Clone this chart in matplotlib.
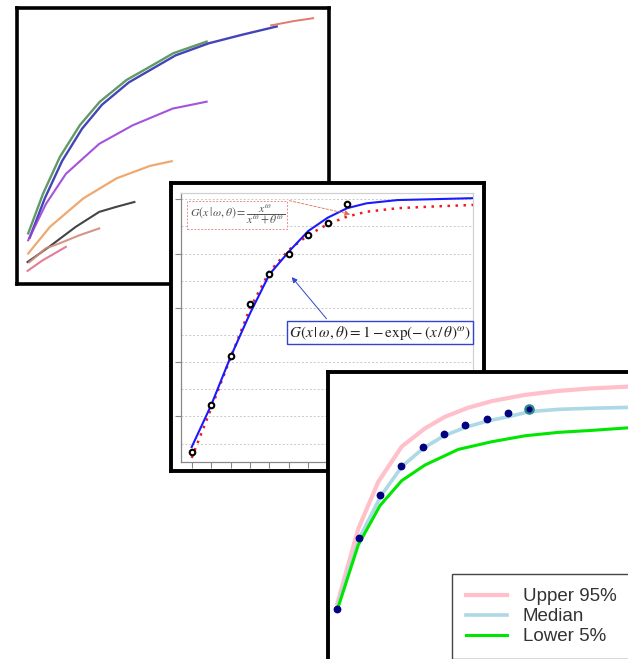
import matplotlib
matplotlib.use("Agg")
import matplotlib.pyplot as plt

W, H = 628, 659

plt.rcParams["mathtext.fontset"] = "stix"
plt.rcParams["font.family"] = ["Liberation Sans", "DejaVu Sans"]

# ---- panel 1: growth curves of several groups
p1_top_x = [3.5, 8.3, 13.7, 20.1, 26.5, 35.1, 42.6, 50.1, 60.8]
p1_top_y = [18.3, 32.8, 46.1, 57.6, 66.1, 74.0, 78.8, 83.7, 87.9]
p1_blue_x = [4.0, 8.9, 14.4, 20.8, 27.2, 35.8, 43.3, 50.8, 61.5, 72.2, 83.3]
p1_blue_y = [16.8, 31.2, 44.6, 56.3, 65.0, 73.1, 78.0, 82.9, 87.3, 90.4, 93.4]
p1_red_x = [81.5, 89.0, 95.0]
p1_red_y = [93.8, 95.4, 96.4]
p1_purple_x = [3.5, 9.2, 15.6, 26.3, 37.0, 49.9, 60.8]
p1_purple_y = [15.8, 29.0, 39.9, 50.8, 57.5, 63.6, 66.1]
p1_orange_x = [3.5, 10.5, 21.2, 31.9, 42.6, 49.6]
p1_orange_y = [11.0, 20.7, 31.0, 38.3, 42.8, 44.5]
p1_black_x = [3.3, 10.2, 18.8, 26.3, 31.7, 37.6]
p1_black_y = [7.9, 13.4, 20.7, 26.1, 27.9, 29.7]
p1_salmon_x = [3.8, 9.2, 13.4, 19.9, 26.3]
p1_salmon_y = [7.8, 12.9, 14.6, 17.6, 20.1]
p1_pink_x = [3.3, 8.1, 15.6]
p1_pink_y = [4.7, 8.5, 13.4]

# ---- panel 2: observed points with two fitted curves
obs_x = [0, 1, 2, 3, 4, 5, 6, 7, 8]
obs_y = [0.068, 0.241, 0.422, 0.614, 0.724, 0.798, 0.868, 0.912, 0.983]
fit_x = [0, 1, 2, 3, 4, 5, 6, 7, 8, 9, 10.6, 12.35, 14.48]
weibull_y = [0.087, 0.241, 0.419, 0.579, 0.723, 0.807, 0.883, 0.932, 0.967,
             0.985, 0.997, 1.0, 1.004]
hill_y = [0.047, 0.229, 0.416, 0.598, 0.733, 0.813, 0.868, 0.908, 0.936,
          0.954, 0.967, 0.973, 0.979]

# ---- panel 3: median with 5% / 95% band
pts_x = [0, 1, 2, 3, 4, 5, 6, 7, 8, 9]
pts_y = [0.175, 0.427, 0.577, 0.681, 0.748, 0.791, 0.823, 0.846, 0.866, 0.879]
upper_x = [0, 0.98, 1.92, 3.02, 4.11, 5.05, 6.14, 7.24, 8.8, 10.36, 11.93, 13.63]
upper_y = [0.195, 0.458, 0.624, 0.748, 0.812, 0.853, 0.885, 0.908, 0.930,
           0.944, 0.953, 0.959]
median_x = [0, 1.03, 2.05, 3.02, 4.03, 5.0, 6.02, 7.04, 8.0, 9.0, 10.36, 11.93, 13.63]
median_y = [0.181, 0.425, 0.575, 0.677, 0.742, 0.786, 0.816, 0.838, 0.853,
            0.871, 0.879, 0.883, 0.886]
lower_x = [0, 0.98, 2.0, 3.02, 4.11, 5.67, 7.24, 8.8, 10.36, 11.93, 13.63]
lower_y = [0.173, 0.401, 0.540, 0.628, 0.683, 0.738, 0.765, 0.786, 0.798,
           0.805, 0.814]
legend_labels = ["Upper 95%", "Median", "Lower 5%"]


def px_rect(x0, y0, x1, y1):
    return [x0 / W, 1 - y1 / H, (x1 - x0) / W, (y1 - y0) / H]


def frame(ax, lw=2.6):
    ax.set_xticks([])
    ax.set_yticks([])
    for s in ax.spines.values():
        s.set_linewidth(lw)
        s.set_color("black")
    ax.set_facecolor("white")


fig = plt.figure(figsize=(W / 100, H / 100), dpi=100)
fig.patch.set_facecolor("white")

# panel 1
ax1 = fig.add_axes(px_rect(17.3, 8.3, 328.7, 283.8))
frame(ax1)
ax1.set_xlim(0, 100)
ax1.set_ylim(0, 100)
ax1.plot(p1_top_x, p1_top_y, color="#4f8f55", lw=1.7, alpha=0.9)
ax1.plot(p1_blue_x, p1_blue_y, color="#3030b0", lw=1.7, alpha=0.9)
ax1.plot(p1_red_x, p1_red_y, color="#e06a5a", lw=1.4, alpha=0.9)
ax1.plot(p1_purple_x, p1_purple_y, color="#9a40d8", lw=1.5, alpha=0.9)
ax1.plot(p1_orange_x, p1_orange_y, color="#eea060", lw=1.6, alpha=0.9)
ax1.plot(p1_black_x, p1_black_y, color="#303030", lw=1.5, alpha=0.9)
ax1.plot(p1_salmon_x, p1_salmon_y, color="#d08a78", lw=1.5, alpha=0.9)
ax1.plot(p1_pink_x, p1_pink_y, color="#e0708a", lw=1.5, alpha=0.9)

# panel 2 frame and inner plot
ax2f = fig.add_axes(px_rect(170.7, 182.7, 484.2, 470.5))
frame(ax2f, lw=2.8)
ax2 = fig.add_axes(px_rect(181, 193, 473, 462))
ax2.set_xlim(-0.55, 14.48)
ax2.set_ylim(0.032, 1.023)
ax2.set_xticks(range(15))
ax2.set_yticks([0.2, 0.4, 0.6, 0.8, 1.0])
ax2.set_yticks([0.1, 0.3, 0.5, 0.7, 0.9], minor=True)
ax2.tick_params(axis="both", which="major", length=4.5, width=0.8,
                color="#888888", labelleft=False, labelbottom=False)
ax2.tick_params(axis="y", which="minor", length=0)
ax2.grid(axis="y", which="both", color="#c8c8c8", ls=(0, (2, 2)), lw=0.7)
ax2.set_axisbelow(True)
for side in ("left", "bottom"):
    ax2.spines[side].set_color("#888888")
    ax2.spines[side].set_linewidth(0.9)
for side in ("top", "right"):
    ax2.spines[side].set_color("#d0d0d0")
    ax2.spines[side].set_linewidth(0.9)

ax2.plot(fit_x, hill_y, color="#ee1c1c", lw=1.8, ls=(0, (1, 2.2)), zorder=3)
ax2.plot(fit_x, weibull_y, color="#1a1aff", lw=1.5, zorder=4)
ax2.plot(obs_x, obs_y, "o", ms=4, mfc="white", mec="black", mew=1.5, zorder=5)

ax2.text(2.34, 0.942,
         r"$G(x\,|\,\omega,\theta)=\dfrac{x^{\omega}}{x^{\omega}+\theta^{\omega}}$",
         fontsize=8.5, color="#555555", ha="center", va="center", zorder=6,
         bbox=dict(boxstyle="square,pad=0.2", fc="white", ec="#e89090",
                   ls=(0, (2, 1.5)), lw=0.7))
ax2.annotate("", xy=(8.3, 0.942), xytext=(4.89, 0.997),
             arrowprops=dict(arrowstyle="-|>", color="#e06a50", lw=0.6,
                             ls=(0, (3, 2)), mutation_scale=8), zorder=6)

ax2.text(9.69, 0.509,
         r"$G(x\,|\,\omega,\theta)=1-\exp\!\left(-\,(x\,/\,\theta)^{\omega}\right)$",
         fontsize=11, color="#222222", ha="center", va="center", zorder=6,
         clip_on=False,
         bbox=dict(boxstyle="square,pad=0.15", fc="white", ec="#3344cc", lw=1))
ax2.annotate("", xy=(5.06, 0.721), xytext=(7.03, 0.552),
             arrowprops=dict(arrowstyle="-|>", color="#3344cc", lw=0.7,
                             mutation_scale=8), zorder=6)

# panel 3
ax3 = fig.add_axes(px_rect(327.7, 372, 640, 680))
frame(ax3, lw=2.8)
ax3.set_xlim(-0.45, 14.19)
ax3.set_ylim(-0.074, 1.0106)
l_up, = ax3.plot(upper_x, upper_y, color="#ffc0cb", lw=3)
l_med, = ax3.plot(median_x, median_y, color="#add8e6", lw=2.6)
l_low, = ax3.plot(lower_x, lower_y, color="#00e600", lw=2.2)
ax3.plot(pts_x[:-1], pts_y[:-1], "o", ms=4.6, color="#000080", zorder=5)
ax3.plot(pts_x[-1:], pts_y[-1:], "o", ms=6, mfc="#000080", mec="#2a8a8a",
         mew=1.6, zorder=5)

leg = ax3.legend([l_up, l_med, l_low], legend_labels, loc="upper left",
                 bbox_to_anchor=(451.7 / W, 1 - 574.3 / H),
                 bbox_transform=fig.transFigure, borderaxespad=0,
                 fontsize=13.5, handlelength=2.2, handletextpad=0.85,
                 labelspacing=0.15, borderpad=0.75, fancybox=False,
                 framealpha=1, edgecolor="#444444")
leg.get_frame().set_linewidth(1.0)
for t in leg.get_texts():
    t.set_color("#333333")

fig.savefig("out.png", dpi=100, facecolor="white")
